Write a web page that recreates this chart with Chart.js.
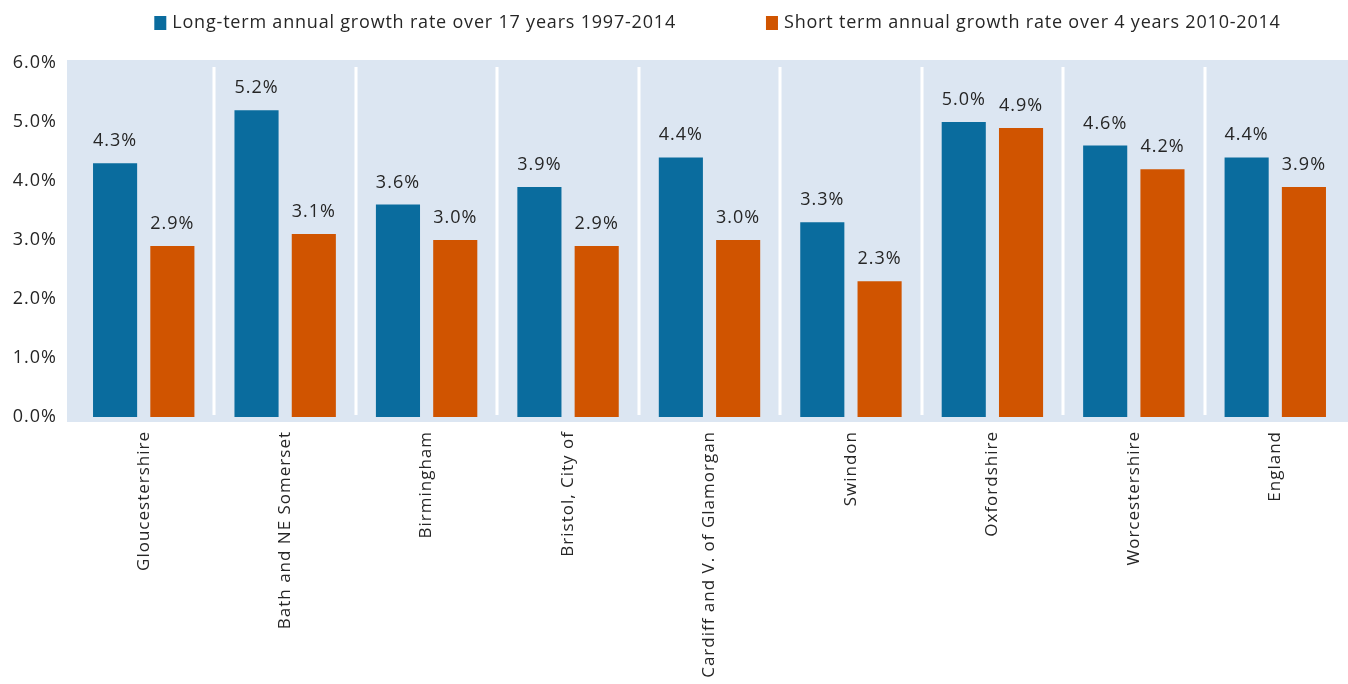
<!DOCTYPE html>
<html>
<head>
<meta charset="utf-8">
<script src="https://cdn.jsdelivr.net/npm/chart.js@4.4.1/dist/chart.umd.min.js"></script>
<style>
  html, body { margin: 0; padding: 0; background: #fff; }
  #wrap { width: 1348px; height: 684px; }
</style>
</head>
<body>
<div id="wrap"><canvas id="myChart" width="1348" height="684"></canvas></div>
<script>
// areas and growth rates (%)
const areas = ['Gloucestershire', 'Bath and NE Somerset', 'Birmingham', 'Bristol, City of',
    'Cardiff and V. of Glamorgan', 'Swindon', 'Oxfordshire', 'Worcestershire', 'England'];
const longTerm = [4.3, 5.2, 3.6, 3.9, 4.4, 3.3, 5.0, 4.6, 4.4];
const shortTerm = [2.9, 3.1, 3.0, 2.9, 3.0, 2.3, 4.9, 4.2, 3.9];
const yTicks = [0, 1, 2, 3, 4, 5, 6];

const FONT = '"Open Sans", "Noto Sans", sans-serif';
const TEXT = '#262626';
const SPACING = '1px';

// slightly looser text everywhere (measure + draw use the same ctx state)
const spacingPlugin = {
    id: 'spacing',
    beforeUpdate(chart) { chart.ctx.letterSpacing = SPACING; },
    beforeDraw(chart) { chart.ctx.letterSpacing = SPACING; }
};

// light blue panel plus the white separators between areas
const panelPlugin = {
    id: 'panel',
    beforeDatasetsDraw(chart) {
        const { ctx, chartArea: a, scales: { x } } = chart;
        ctx.save();
        ctx.fillStyle = '#dce6f2';
        ctx.fillRect(a.left - 6, a.top - 3, a.right - a.left + 8, a.bottom - a.top + 8);
        ctx.strokeStyle = '#ffffff';
        ctx.lineWidth = 3;
        for (let i = 1; i < areas.length; i++) {
            const sx = Math.round((x.getPixelForValue(i - 1) + x.getPixelForValue(i)) / 2);
            ctx.beginPath();
            ctx.moveTo(sx, a.top + 4);
            ctx.lineTo(sx, a.bottom - 2);
            ctx.stroke();
        }
        ctx.restore();
    }
};

// value labels above every bar
const valueLabels = {
    id: 'valueLabels',
    afterDatasetsDraw(chart) {
        const { ctx } = chart;
        ctx.save();
        ctx.font = '18px ' + FONT;
        ctx.fillStyle = TEXT;
        ctx.textAlign = 'center';
        ctx.textBaseline = 'alphabetic';
        chart.data.datasets.forEach((ds, di) => {
            chart.getDatasetMeta(di).data.forEach((bar, i) => {
                ctx.fillText(ds.data[i].toFixed(1) + '%', bar.x, bar.y - 17);
            });
        });
        ctx.restore();
    }
};

// legend row at the top
const topLegend = {
    id: 'topLegend',
    afterDraw(chart) {
        const { ctx, chartArea: a } = chart;
        const box = 13, gapText = 5, gapItems = 90;
        ctx.save();
        ctx.font = '18px ' + FONT;
        ctx.letterSpacing = '0.8px';
        ctx.textBaseline = 'middle';
        ctx.textAlign = 'left';
        const items = chart.data.datasets.map(ds => ({
            text: ds.label, color: ds.backgroundColor,
            w: box + gapText + ctx.measureText(ds.label).width
        }));
        const total = items.reduce((s, it) => s + it.w, 0) + gapItems * (items.length - 1);
        let cx = (a.left + a.right) / 2 + 8 - total / 2;
        const cy = 22;
        items.forEach(it => {
            ctx.fillStyle = it.color;
            ctx.fillRect(cx, cy - 6, box - 1, box + 1);
            ctx.fillStyle = TEXT;
            ctx.fillText(it.text, cx + box + gapText, cy + 1);
            cx += it.w + gapItems;
        });
        ctx.restore();
    }
};

const ctx = document.getElementById('myChart');
const myChart = new Chart(ctx, {
    type: 'bar',
    data: {
        labels: areas,
        datasets: [{
            label: 'Long-term annual growth rate over 17 years 1997-2014',
            data: longTerm,
            backgroundColor: '#0a6c9e',
            categoryPercentage: 0.81,
            barPercentage: 0.77
        }, {
            label: 'Short term annual growth rate over 4 years 2010-2014',
            data: shortTerm,
            backgroundColor: '#d05400',
            categoryPercentage: 0.81,
            barPercentage: 0.77
        }]
    },
    options: {
        responsive: false,
        animation: false,
        layout: { padding: { top: 63, right: 2, left: 0, bottom: 0 } },
        plugins: {
            legend: { display: false },
            tooltip: { enabled: false }
        },
        scales: {
            x: {
                grid: { display: false, drawTicks: false },
                border: { display: false },
                ticks: {
                    minRotation: 90,
                    maxRotation: 90,
                    autoSkip: false,
                    padding: 14,
                    color: TEXT,
                    font: { family: FONT, size: 17 }
                },
                afterFit(scale) { scale.height = 267; }
            },
            y: {
                min: 0,
                max: 6,
                afterBuildTicks(scale) { scale.ticks = yTicks.map(v => ({ value: v })); },
                grid: { display: false, drawTicks: false },
                border: { display: false },
                ticks: {
                    padding: 16,
                    color: TEXT,
                    font: { family: FONT, size: 18 },
                    callback: v => v.toFixed(1) + '%'
                },
                afterFit(scale) { scale.width = 73; }
            }
        }
    },
    plugins: [spacingPlugin, panelPlugin, valueLabels, topLegend]
});
</script>
</body>
</html>
